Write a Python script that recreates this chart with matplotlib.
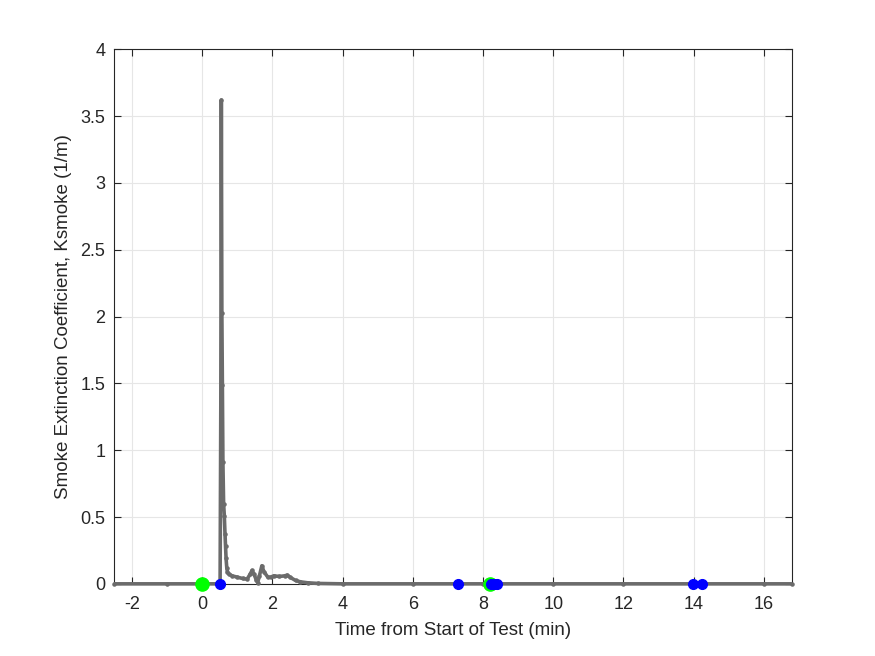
import numpy as np
import matplotlib.pyplot as plt

plt.rcParams['font.family'] = ['Liberation Sans', 'DejaVu Sans']
plt.rcParams['axes.unicode_minus'] = False

# smoke extinction coefficient vs time
t = [-2.52, -1.0, 0.0, 0.45, 0.51, 0.53, 0.545, 0.56, 0.575, 0.59, 0.61, 0.63, 0.65, 0.665,
     0.68, 0.70, 0.72, 0.75, 0.85, 1.0, 1.15, 1.28, 1.36, 1.42, 1.48, 1.54, 1.58, 1.63,
     1.70, 1.76, 1.87, 1.95, 2.04, 2.2, 2.35, 2.42, 2.5, 2.66, 2.8, 3.0, 3.3, 4.0, 6.0,
     8.0, 10.0, 12.0, 14.0, 16.0, 16.8]
k = [0.0, 0.0, 0.0, 0.0, 0.0, 1.33, 3.62, 2.03, 1.49, 0.91, 0.60, 0.51, 0.37, 0.28,
     0.19, 0.12, 0.09, 0.075, 0.06, 0.05, 0.04, 0.035, 0.07, 0.10, 0.07, 0.03, 0.01, 0.06,
     0.135, 0.09, 0.05, 0.05, 0.06, 0.055, 0.06, 0.065, 0.05, 0.025, 0.015, 0.008, 0.003,
     0.0, 0.0, 0.0, 0.0, 0.0, 0.0, 0.0, 0.0]

# event markers
green_t = [0.0, 8.2]
blue_t = [0.51, 7.28, 8.22, 8.3, 8.4, 13.99, 14.23]

fig = plt.figure(figsize=(8.75, 6.56), dpi=100)
ax = fig.add_axes([0.13, 0.11, 0.775, 0.815])

ax.plot(t, k, color='#6b6b6b', lw=2.6, marker='.', ms=4.5, zorder=3, clip_on=False,
        solid_capstyle='butt')
ax.plot(green_t, [0] * len(green_t), 'o', color='#00ff00', ms=9.5, zorder=4, lw=0,
        clip_on=False)
ax.plot(blue_t, [0] * len(blue_t), 'o', color='#0000ff', ms=7, zorder=5, lw=0,
        clip_on=False)

ax.set_xlim(-2.52, 16.8)
ax.set_ylim(0, 4)
ax.set_xticks(np.arange(-2, 17, 2))
ax.set_yticks(np.arange(0, 4.01, 0.5))
ax.set_yticklabels(['0', '0.5', '1', '1.5', '2', '2.5', '3', '3.5', '4'])
ax.grid(True, color='#e6e6e6', lw=0.8)
ax.set_axisbelow(True)
ax.tick_params(direction='in', top=True, right=True, labelsize=13, colors='#262626',
               length=5)
ax.tick_params(axis='x', pad=9)
ax.tick_params(axis='y', pad=6)
for s in ax.spines.values():
    s.set_color('#262626')
    s.set_linewidth(0.8)

ax.set_xlabel('Time from Start of Test (min)', fontsize=13.5, color='#262626', labelpad=6)
ax.set_ylabel('Smoke Extinction Coefficient, Ksmoke (1/m)', fontsize=13.5, color='#262626',
              labelpad=6)

fig.savefig('out.png', dpi=100)
